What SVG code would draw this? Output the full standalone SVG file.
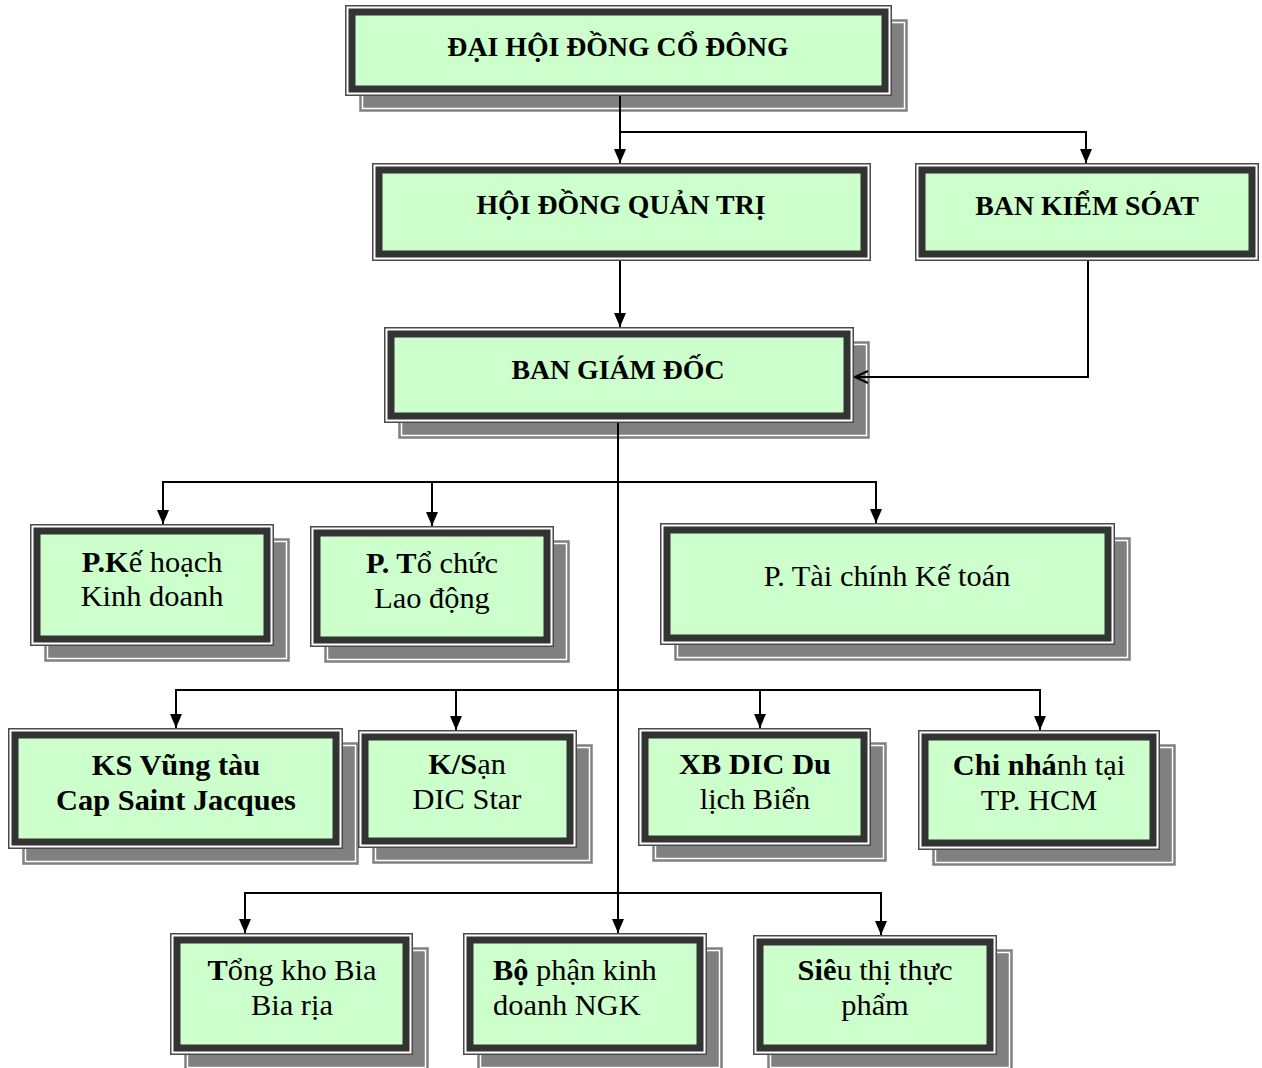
<svg xmlns="http://www.w3.org/2000/svg" width="1262" height="1068" viewBox="0 0 1262 1068">
<defs>
<style>
.sh{fill:#808080;stroke:#808080;stroke-width:1.5}
.shw{fill:none;stroke:#fff;stroke-width:1.5}
.out{fill:#fff;stroke:#4a4a4a;stroke-width:1.5}
.in{fill:#ccffcc;stroke:#333;stroke-width:7}
.t{font-family:"Liberation Serif","Times New Roman",serif;fill:#000;text-anchor:middle}
.h{font-size:27.8px;font-weight:bold}
.n{font-size:30.4px}
.b{font-weight:bold}
.c{fill:none;stroke:#000;stroke-width:2}
</style>
<marker id="ar" viewBox="0 0 14 12" refX="14" refY="6" markerWidth="14" markerHeight="12" markerUnits="userSpaceOnUse" orient="auto">
<path d="M0,0 L14,6 L0,12 z" fill="#000"/>
</marker>
<marker id="oa" viewBox="0 0 16 14" refX="15" refY="7" markerWidth="16" markerHeight="14" markerUnits="userSpaceOnUse" orient="auto">
<path d="M2,1 L15,7 L2,13" fill="none" stroke="#000" stroke-width="2"/>
</marker>
</defs>
<rect width="1262" height="1068" fill="#fff"/>

<g id="n-dhdcd">
<rect class="sh" x="360" y="20" width="547" height="91"/><rect class="shw" x="362.5" y="22.5" width="542" height="86"/>
<rect class="out" x="345.75" y="5.75" width="545.5" height="89.5"/><rect class="in" x="352" y="12" width="533" height="77"/>
<text class="t h" x="618" y="56">ĐẠI HỘI ĐỒNG CỔ ĐÔNG</text>
</g>

<g id="n-hdqt">
<rect class="out" x="372.75" y="163.75" width="497.5" height="96.5"/><rect class="in" x="379" y="170" width="485" height="84"/>
<text class="t h" x="621" y="214">HỘI ĐỒNG QUẢN TRỊ</text>
</g>

<g id="n-bks">
<rect class="out" x="915.75" y="163.75" width="342.5" height="96.5"/><rect class="in" x="922" y="170" width="330" height="84"/>
<text class="t h" x="1087" y="215">BAN KIỂM SÓAT</text>
</g>

<g id="n-bgd">
<rect class="sh" x="399" y="342" width="470" height="96"/><rect class="shw" x="401.5" y="344.5" width="465" height="91"/>
<rect class="out" x="384.75" y="327.75" width="468.5" height="94.5"/><rect class="in" x="391" y="334" width="456" height="82"/>
<text class="t h" x="618" y="379">BAN GIÁM ĐỐC</text>
</g>

<g id="n-pkh">
<rect class="sh" x="45" y="539" width="244" height="122"/><rect class="shw" x="47.5" y="541.5" width="239" height="117"/>
<rect class="out" x="30.75" y="524.75" width="242.5" height="120.5"/><rect class="in" x="37" y="531" width="230" height="108"/>
<text class="t n" x="152" y="572"><tspan class="b">P.K</tspan>ế hoạch</text>
<text class="t n" x="152" y="606">Kinh doanh</text>
</g>

<g id="n-ptc">
<rect class="sh" x="325" y="541" width="244" height="121"/><rect class="shw" x="327.5" y="543.5" width="239" height="116"/>
<rect class="out" x="310.75" y="526.75" width="242.5" height="119.5"/><rect class="in" x="317" y="533" width="230" height="107"/>
<text class="t n" x="432" y="573"><tspan class="b">P. T</tspan>ổ chức</text>
<text class="t n" x="432" y="608">Lao động</text>
</g>

<g id="n-ptckt">
<rect class="sh" x="675" y="538" width="455" height="122"/><rect class="shw" x="677.5" y="540.5" width="450" height="117"/>
<rect class="out" x="660.75" y="523.75" width="453.5" height="120.5"/><rect class="in" x="667" y="530" width="441" height="108"/>
<text class="t n" x="887" y="586">P. Tài chính Kế toán</text>
</g>

<g id="n-ks">
<rect class="sh" x="23" y="743" width="335" height="121"/><rect class="shw" x="25.5" y="745.5" width="330" height="116"/>
<rect class="out" x="8.75" y="728.75" width="333.5" height="119.5"/><rect class="in" x="15" y="735" width="321" height="107"/>
<text class="t n b" x="176" y="775">KS Vũng tàu</text>
<text class="t n b" x="176" y="810">Cap Saint Jacques</text>
</g>

<g id="n-ksan">
<rect class="sh" x="373" y="745" width="219" height="118"/><rect class="shw" x="375.5" y="747.5" width="214" height="113"/>
<rect class="out" x="358.75" y="730.75" width="217.5" height="116.5"/><rect class="in" x="365" y="737" width="205" height="104"/>
<text class="t n" x="467" y="774"><tspan class="b">K/S</tspan>ạn</text>
<text class="t n" x="467" y="809">DIC Star</text>
</g>

<g id="n-xb">
<rect class="sh" x="653" y="743" width="233" height="118"/><rect class="shw" x="655.5" y="745.5" width="228" height="113"/>
<rect class="out" x="638.75" y="728.75" width="231.5" height="116.5"/><rect class="in" x="645" y="735" width="219" height="104"/>
<text class="t n b" x="755" y="774">XB DIC Du</text>
<text class="t n" x="755" y="809">lịch Biển</text>
</g>

<g id="n-cn">
<rect class="sh" x="933" y="745" width="242" height="120"/><rect class="shw" x="935.5" y="747.5" width="237" height="115"/>
<rect class="out" x="918.75" y="730.75" width="240.5" height="118.5"/><rect class="in" x="925" y="737" width="228" height="106"/>
<text class="t n" x="1039" y="775"><tspan class="b">Chi nhá</tspan>nh tại</text>
<text class="t n" x="1039" y="810">TP. HCM</text>
</g>

<g id="n-tk">
<rect class="sh" x="185" y="948" width="243" height="122"/><rect class="shw" x="187.5" y="950.5" width="238" height="117"/>
<rect class="out" x="170.75" y="933.75" width="241.5" height="120.5"/><rect class="in" x="177" y="940" width="229" height="108"/>
<text class="t n" x="292" y="980"><tspan class="b">T</tspan>ổng kho Bia</text>
<text class="t n" x="292" y="1015">Bia rịa</text>
</g>

<g id="n-bp">
<rect class="sh" x="478" y="948" width="244" height="122"/><rect class="shw" x="480.5" y="950.5" width="239" height="117"/>
<rect class="out" x="463.75" y="933.75" width="242.5" height="120.5"/><rect class="in" x="470" y="940" width="230" height="108"/>
<text class="t n" x="493" y="980" style="text-anchor:start"><tspan class="b">Bộ</tspan> phận kinh</text>
<text class="t n" x="493" y="1015" style="text-anchor:start">doanh NGK</text>
</g>

<g id="n-st">
<rect class="sh" x="768" y="950" width="244" height="120"/><rect class="shw" x="770.5" y="952.5" width="239" height="115"/>
<rect class="out" x="753.75" y="935.75" width="242.5" height="118.5"/><rect class="in" x="760" y="942" width="230" height="106"/>
<text class="t n" x="875" y="980"><tspan class="b">Siê</tspan>u thị thực</text>
<text class="t n" x="875" y="1015">phẩm</text>
</g>

<g id="connectors">
<path class="c" d="M620,96 V163" marker-end="url(#ar)"/>
<path class="c" d="M620,132 H1086 V163" marker-end="url(#ar)"/>
<path class="c" d="M620,261 V327" marker-end="url(#ar)"/>
<path class="c" d="M1088,261 V377 H855" marker-end="url(#oa)"/>
<path class="c" d="M618,423 V933" marker-end="url(#ar)"/>
<path class="c" d="M163,482 H876"/>
<path class="c" d="M163,481 V524" marker-end="url(#ar)"/>
<path class="c" d="M432,481 V526" marker-end="url(#ar)"/>
<path class="c" d="M876,481 V523" marker-end="url(#ar)"/>
<path class="c" d="M176,690 H1040"/>
<path class="c" d="M176,689 V728" marker-end="url(#ar)"/>
<path class="c" d="M456,689 V730" marker-end="url(#ar)"/>
<path class="c" d="M760,689 V728" marker-end="url(#ar)"/>
<path class="c" d="M1040,689 V730" marker-end="url(#ar)"/>
<path class="c" d="M245,893 H881"/>
<path class="c" d="M245,892 V933" marker-end="url(#ar)"/>
<path class="c" d="M881,892 V935" marker-end="url(#ar)"/>
</g>
</svg>
